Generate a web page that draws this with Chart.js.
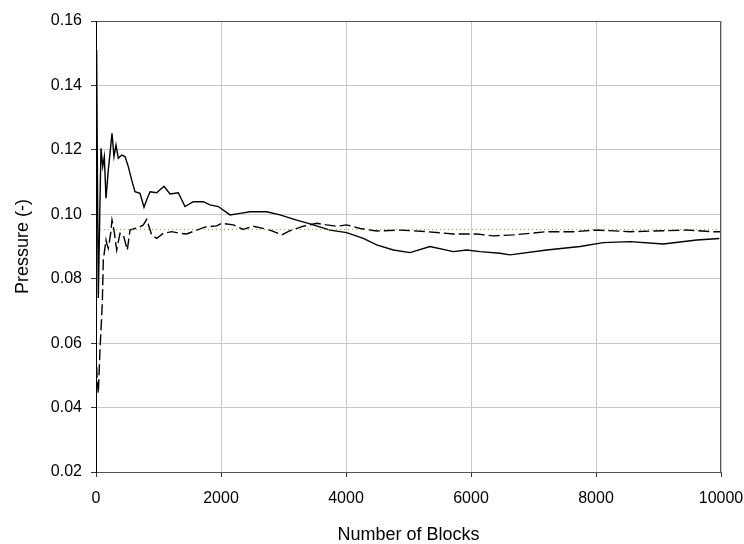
<!DOCTYPE html>
<html>
<head>
<meta charset="utf-8">
<script src="https://cdn.jsdelivr.net/npm/chart.js@4"></script>
<style>
  html, body { margin: 0; padding: 0; background: #fff; }
  #wrap { width: 744px; height: 544px; }
</style>
</head>
<body>
<div id="wrap"><canvas id="chart"></canvas></div>
<script>
'use strict';

// Solid line
const solidX = [5, 10, 20, 37, 60, 80, 107, 133, 160, 197, 224, 256, 288, 320, 357, 411, 464, 517, 571, 624,
  704, 768, 821, 864, 971, 1088, 1184, 1317, 1424, 1557, 1717, 1824, 1957, 2144, 2304, 2464, 2731, 2944,
  3211, 3424, 3744, 4011, 4277, 4491, 4757, 5024, 5344, 5717, 5931, 6144, 6464, 6624, 7211, 7744, 8117,
  8544, 9077, 9611, 9973];
const solidY = [0.140, 0.151, 0.120, 0.074, 0.100, 0.1205, 0.1148, 0.1179, 0.1050, 0.1138, 0.1189, 0.1251,
  0.1179, 0.1215, 0.1174, 0.1184, 0.1179, 0.1148, 0.1106, 0.1070, 0.1065, 0.1022, 0.1050, 0.1070, 0.1067,
  0.1087, 0.1063, 0.1067, 0.1024, 0.1039, 0.1039, 0.1029, 0.1024, 0.0998, 0.1003, 0.1008, 0.1008, 0.0998,
  0.0982, 0.0970, 0.0951, 0.0943, 0.0925, 0.0905, 0.0889, 0.0881, 0.0900, 0.0884, 0.0889, 0.0884, 0.0879,
  0.0874, 0.0889, 0.0900, 0.0912, 0.0915, 0.0908, 0.0920, 0.0925];

// Dashed line
const dashedX = [10, 21, 37, 64, 101, 117, 160, 171, 197, 235, 256, 288, 331, 384, 437, 501, 544, 624, 704,
  757, 811, 891, 971, 1077, 1211, 1344, 1451, 1611, 1744, 1931, 2011, 2197, 2357, 2517, 2784, 2971, 3104,
  3317, 3531, 3691, 3851, 4011, 4224, 4491, 4864, 5291, 5717, 6091, 6357, 6677, 7211, 7637, 8011, 8544,
  9077, 9451, 9877, 10000];
const dashedY = [0.0527, 0.0480, 0.0444, 0.0580, 0.0724, 0.0858, 0.0920, 0.0910, 0.0894, 0.0941, 0.0982,
  0.0951, 0.0889, 0.0941, 0.0936, 0.0889, 0.0951, 0.0956, 0.0961, 0.0967, 0.0984, 0.0936, 0.0925, 0.0941,
  0.0946, 0.0941, 0.0939, 0.0951, 0.0960, 0.0964, 0.0972, 0.0967, 0.0953, 0.0963, 0.0951, 0.0936, 0.0949,
  0.0963, 0.0972, 0.0967, 0.0963, 0.0967, 0.0956, 0.0948, 0.0951, 0.0946, 0.0939, 0.0939, 0.0933, 0.0936,
  0.0946, 0.0946, 0.0951, 0.0946, 0.0949, 0.0951, 0.0946, 0.0946];

// Dotted reference level
const refX = [0, 10000];
const refY = [0.0953, 0.0953];

const toPoints = (xs, ys) => xs.map((x, i) => ({ x, y: ys[i] }));

// Frame round the plot area (Excel style)
const framePlugin = {
  id: 'frame',
  afterDraw(chart) {
    const { ctx, chartArea: a } = chart;
    ctx.save();
    ctx.strokeStyle = '#555';
    ctx.lineWidth = 1;
    ctx.beginPath();
    ctx.moveTo(a.left, a.top + 0.5);
    ctx.lineTo(a.right - 0.5, a.top + 0.5);
    ctx.lineTo(a.right - 0.5, a.bottom);
    ctx.stroke();
    ctx.strokeStyle = '#000';
    ctx.beginPath();
    ctx.moveTo(a.left + 0.5, a.top);
    ctx.lineTo(a.left + 0.5, a.bottom);
    ctx.stroke();
    ctx.restore();
  }
};

new Chart(document.getElementById('chart'), {
  type: 'scatter',
  data: {
    datasets: [
      {
        label: 'ref',
        data: toPoints(refX, refY),
        showLine: true,
        borderColor: '#9a9a55',
        borderWidth: 1,
        borderDash: [1, 3],
        pointRadius: 0,
      },
      {
        label: 'dashed',
        data: toPoints(dashedX, dashedY),
        showLine: true,
        borderColor: '#000',
        borderWidth: 1.4,
        borderDash: [11, 4],
        pointRadius: 0,
      },
      {
        label: 'solid',
        data: toPoints(solidX, solidY),
        showLine: true,
        borderColor: '#000',
        borderWidth: 1.4,
        pointRadius: 0,
      },
    ],
  },
  options: {
    responsive: true,
    maintainAspectRatio: false,
    animation: false,
    layout: { padding: { top: 21, right: 23, left: 0, bottom: 0 } },
    plugins: {
      legend: { display: false },
      tooltip: { enabled: false },
    },
    scales: {
      x: {
        type: 'linear',
        min: 0,
        max: 10000,
        afterFit: scale => {
          scale.height = 72;
          scale.paddingLeft = 0;
          scale.paddingRight = 0;
        },
        ticks: {
          stepSize: 2000,
          color: '#000',
          padding: 12,
          callback: v => String(v),
          font: { family: 'Liberation Sans', size: 16 },
        },
        grid: { color: '#c8c8c8', tickColor: '#333', tickLength: 5 },
        border: { color: '#555' },
        title: {
          display: true,
          text: 'Number of Blocks',
          color: '#000',
          padding: { top: 12, bottom: 0 },
          font: { family: 'Liberation Sans', size: 18, lineHeight: 1 },
        },
      },
      y: {
        min: 0.02,
        max: 0.16,
        afterFit: scale => { scale.width = 96; },
        ticks: {
          stepSize: 0.02,
          color: '#000',
          padding: 9,
          callback: v => v.toFixed(2),
          font: { family: 'Liberation Sans', size: 16 },
        },
        grid: { color: '#c8c8c8', tickColor: '#333', tickLength: 5 },
        border: { color: '#000' },
        title: {
          display: true,
          text: 'Pressure (-)',
          color: '#000',
          padding: { top: 12, bottom: 6 },
          font: { family: 'Liberation Sans', size: 18 },
        },
      },
    },
  },
  plugins: [framePlugin],
});
</script>
</body>
</html>
